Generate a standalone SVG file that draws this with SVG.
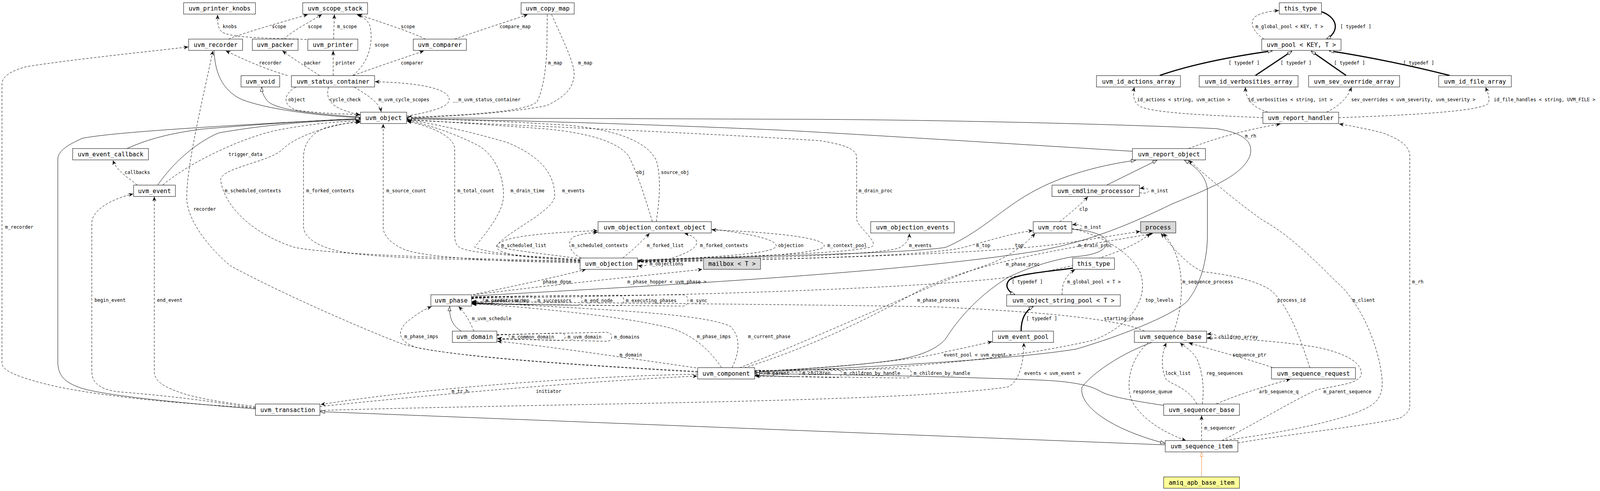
<svg xmlns="http://www.w3.org/2000/svg" width="4119" height="1256" viewBox="0 0 4119 1256">
<style>
.n rect{fill:#fff;stroke:#000;stroke-width:1}
.n.g rect{fill:#d9d9d9}
.n.y rect{fill:#ffff99}
.n text{font-family:"DejaVu Sans Mono",monospace;font-size:15.5px;text-anchor:middle;fill:#000}
#edges path{fill:none;stroke:#000;stroke-width:1}
#edges path.u{stroke-dasharray:6,4;marker-end:url(#v)}
#edges path.i{marker-end:url(#h)}
#edges path.t{stroke-width:3;marker-end:url(#h)}
#edges path.o{stroke:#f5832a;marker-end:url(#ho)}
#edges text{font-family:"DejaVu Sans Mono",monospace;font-size:12px;fill:#000}
</style>
<defs>
<marker id="v" markerUnits="userSpaceOnUse" markerWidth="14" markerHeight="12" refX="12" refY="5" orient="auto"><path d="M0,0 L12,5 L0,10 L4,5 Z" fill="#000"/></marker>
<marker id="h" markerUnits="userSpaceOnUse" markerWidth="14" markerHeight="12" refX="12" refY="5" orient="auto"><path d="M1,1 L12,5 L1,9 Z" fill="#fff" stroke="#000" stroke-width="1"/></marker>
<marker id="ho" markerUnits="userSpaceOnUse" markerWidth="14" markerHeight="12" refX="12" refY="5" orient="auto"><path d="M1,1 L12,5 L1,9 Z" fill="#fff" stroke="#f5832a" stroke-width="1"/></marker>
</defs>
<rect x="0" y="0" width="4119" height="1256" fill="#fff"/>
<g id="edges">
<g><path class="u" d="M785,101 C700,97 600,99 568,82 C557,72 557,55 557,38"/><text x="570" y="72">knobs</text></g>
<g><path class="u" d="M585,100 C640,78 730,55 788,37"/><text x="696" y="72">scope</text></g>
<g><path class="u" d="M726,100 C750,78 800,52 824,37"/><text x="788" y="72">scope</text></g>
<g><path class="u" d="M854,100 L856,37"/><text x="863" y="72">m_scope</text></g>
<g><path class="u" d="M903,193 C945,160 955,110 948,70 C945,55 930,42 913,37"/><text x="959" y="119">scope</text></g>
<g><path class="u" d="M1089,100 C1060,85 1000,65 916,37"/><text x="1026" y="72">scope</text></g>
<g><path class="u" d="M1164,100 C1220,80 1300,55 1351,37"/><text x="1279" y="72">compare_map</text></g>
<g><path class="u" d="M1401,37 L1400,120 C1398,180 1390,230 1375,260 C1350,285 1200,295 1042,300"/><text x="1403" y="165">m_map</text></g>
<g><path class="u" d="M1412,37 C1440,100 1470,160 1470,190 C1468,230 1440,250 1400,270 C1300,290 1150,297 1042,302"/><text x="1480" y="165">m_map</text></g>
<g><path class="u" d="M736,193 C690,180 640,160 578,130"/><text x="663" y="165">recorder</text></g>
<g><path class="u" d="M818,193 C790,175 750,150 723,130"/><text x="778" y="165">packer</text></g>
<g><path class="u" d="M853,193 L853,130"/><text x="859" y="165">printer</text></g>
<g><path class="u" d="M905,193 C960,172 1030,150 1085,130"/><text x="1026" y="165">comparer</text></g>
<g><path class="u" d="M1041,297 C1110,285 1150,272 1150,255 C1150,228 1080,212 960,209"/><text x="1159" y="259">__m_uvm_status_container</text></g>
<g><path class="u" d="M757,223 C725,240 722,270 760,282 C820,290 880,292 922,293"/><text x="738" y="259">object</text></g>
<g><path class="u" d="M841,223 C835,245 840,268 880,282 C900,289 912,292 922,295"/><text x="844" y="259">cycle_check</text></g>
<g><path class="u" d="M907,223 C935,240 970,260 976,286"/><text x="969" y="259">m_uvm_cycle_scopes</text></g>
<g><path class="i" d="M923,300 C800,290 700,282 682,255 C675,245 670,235 670,223"/></g>
<g><path class="i" d="M548,129 C550,180 565,230 620,255 C700,285 850,298 922,301"/></g>
<g><path class="i" d="M325,380 C380,355 440,340 520,330 C700,315 850,306 922,304"/></g>
<g><path class="i" d="M404,473 C440,420 500,365 560,340 C700,315 850,307 922,306"/></g>
<g><path class="i" d="M654,1046 C450,1030 250,1010 200,990 C160,975 148,955 148,925 L148,405 C150,385 175,370 210,354 C300,335 700,315 922,303"/></g>
<g><path class="u" d="M351,473 C330,455 300,440 289,410"/><text x="319" y="445">callbacks</text></g>
<g><path class="u" d="M417,473 C480,420 600,360 700,335 C800,315 880,310 922,309"/><text x="585" y="399">trigger_data</text></g>
<g><path class="u" d="M1485,668 C1200,662 850,652 755,633 C650,600 575,530 565,462 C560,430 690,415 723,382 C760,345 860,316 922,311"/><text x="575" y="492">m_scheduled_contexts</text></g>
<g><path class="u" d="M1485,670 C1300,665 1000,665 880,645 C800,630 777,600 777,580 L777,402 C777,375 790,345 830,328 C860,318 900,313 922,313"/><text x="784" y="492">m_forked_contexts</text></g>
<g><path class="u" d="M1485,672 C1300,670 1100,660 1040,640 C1000,625 981,600 981,583 L981,317"/><text x="989" y="492">m_source_count</text></g>
<g><path class="u" d="M1485,666 C1350,655 1200,650 1175,632 C1165,625 1164,610 1164,600 L1164,380 C1162,350 1110,325 1042,310"/><text x="1171" y="492">m_total_count</text></g>
<g><path class="u" d="M1485,664 C1350,655 1250,650 1215,632 C1250,590 1289,540 1289,500 C1289,440 1260,390 1220,370 C1160,340 1100,320 1042,308"/><text x="1307" y="492">m_drain_time</text></g>
<g><path class="u" d="M1487,662 C1400,650 1300,640 1270,630 C1300,590 1420,540 1420,500 C1420,430 1360,390 1300,365 C1200,335 1100,315 1042,306"/><text x="1439" y="492">m_events</text></g>
<g><path class="u" d="M1670,567 C1650,500 1630,440 1610,400 C1580,360 1500,340 1400,330 C1200,315 1100,310 1042,305"/><text x="1629" y="445">obj</text></g>
<g><path class="u" d="M1680,567 C1690,500 1692,450 1680,410 C1660,370 1600,335 1460,321 C1300,310 1150,305 1042,304"/><text x="1692" y="445">source_obj</text></g>
<g><path class="u" d="M1632,665 C1900,655 2150,650 2230,632 C2255,622 2193,580 2193,560 L2193,400 C2190,380 2160,370 2100,360 C1800,340 1300,320 1042,307"/><text x="2198" y="492">m_drain_proc</text></g>
<g><path class="u" d="M1485,667 C1350,660 1275,652 1272,632 C1270,605 1400,595 1530,590"/><text x="1283" y="632">m_scheduled_list</text></g>
<g><path class="u" d="M1488,660 C1455,645 1450,615 1470,605 C1490,598 1510,596 1530,594"/><text x="1463" y="632">m_scheduled_contexts</text></g>
<g><path class="u" d="M1594,660 C1620,640 1640,620 1663,597"/><text x="1656" y="632">m_forked_list</text></g>
<g><path class="u" d="M1720,660 C1770,645 1790,628 1782,614 C1775,604 1762,599 1752,597"/><text x="1792" y="632">m_forked_contexts</text></g>
<g><path class="u" d="M1821,586 C1900,595 1985,610 1987,628 C1988,645 1900,655 1633,667"/><text x="1992" y="632">objection</text></g>
<g><path class="u" d="M1632,668 C1900,660 2100,650 2110,630 C2115,610 2000,595 1822,588"/><text x="2118" y="632">m_context_pool</text></g>
<g><path class="u" d="M1632,669 C2000,660 2250,650 2300,635 C2320,625 2328,612 2328,597"/><text x="2327" y="632">m_events</text></g>
<g><path class="u" d="M1632,670 C2100,662 2400,652 2470,632 C2550,610 2600,595 2644,590"/><text x="2499" y="632">m_top</text></g>
<g><path class="u" d="M1893,941 C2100,860 2400,720 2520,680 C2580,660 2625,625 2650,597"/><text x="2598" y="632">top</text></g>
<g><path class="u" d="M1632,671 C2200,660 2600,645 2760,617 C2850,603 2890,596 2919,592"/><text x="2760" y="632">m_drain_proc</text></g>
<g><path class="u" d="M1207,763 C1700,758 2300,740 2560,712 C2750,690 2900,640 2944,597"/><text x="2575" y="680">m_phase_proc</text></g>
<g><path class="u" d="M1905,941 C2100,880 2250,800 2350,745 C2500,665 2800,625 2952,597"/><text x="2348" y="772">m_phase_process</text></g>
<g><path class="u" d="M3005,847 C3030,780 3030,700 3010,650 C3000,625 2990,610 2978,597"/><text x="3027" y="725">m_sequence_process</text></g>
<g><path class="u" d="M3353,940 C3330,870 3300,780 3250,740 C3200,710 3120,700 3080,695 C3040,680 3000,630 2972,597"/><text x="3270" y="772">process_id</text></g>
<g><path class="u" d="M1212,754 C1400,730 1650,705 1798,689"/><text x="1606" y="725">m_phase_hopper &lt; uvm_phase &gt;</text></g>
<g><path class="u" d="M1210,754 C1300,735 1420,710 1500,689"/><text x="1390" y="725">phase_done</text></g>
<g><path class="u" d="M2713,567 C2740,545 2770,520 2785,503"/><text x="2763" y="539">clp</text></g>
<g><path class="u" d="M2917,493 C2933,496 2941,492 2941,488 C2941,483 2933,480 2918,482"/><text x="2947" y="492">m_inst</text></g>
<g><path class="u" d="M2744,586 C2760,589 2770,585 2770,581 C2770,576 2760,573 2745,575"/><text x="2776" y="585">m_inst</text></g>
<g><path class="u" d="M3043,380 C3120,350 3200,330 3278,317"/><text x="3187" y="352">m_rh</text></g>
<g><path class="u" d="M3169,1133 C3300,1110 3500,1090 3585,1069 C3600,1060 3609,1050 3609,1040 L3609,395 C3605,370 3580,355 3540,340 C3500,330 3460,322 3428,317"/><text x="3615" y="725">m_rh</text></g>
<g><path class="u" d="M3128,1127 C3250,1112 3430,1080 3500,1043 C3535,1025 3540,1000 3538,970 C3530,880 3480,770 3420,720 C3370,670 3300,600 3235,565 C3170,520 3100,460 3043,410"/><text x="3462" y="772">m_client</text></g>
<g><path class="u" d="M3233,301 C3100,295 2960,290 2920,273 C2900,262 2900,240 2904,223"/><text x="2911" y="259">id_actions &lt; string, uvm_action &gt;</text></g>
<g><path class="u" d="M3246,287 C3210,275 3190,260 3188,223"/><text x="3195" y="259">id_verbosities &lt; string, int &gt;</text></g>
<g><path class="u" d="M3396,287 C3430,270 3450,250 3460,223"/><text x="3459" y="259">sev_overrides &lt; uvm_severity, uvm_severity &gt;</text></g>
<g><path class="u" d="M3427,301 C3600,295 3790,285 3810,265 C3815,250 3808,235 3803,223"/><text x="3824" y="259">id_file_handles &lt; string, UVM_FILE &gt;</text></g>
<g><path class="u" d="M3236,100 C3205,80 3198,55 3214,42 C3230,32 3255,28 3274,27"/><text x="3214" y="72">m_global_pool &lt; KEY, T &gt;</text></g>
<g><path class="t" d="M3383,30 C3425,45 3430,80 3396,100"/><text x="3431" y="72">[ typedef ]</text></g>
<g><path class="t" d="M2969,193 C3050,165 3150,145 3257,130"/><text x="3145" y="165">[ typedef ]</text></g>
<g><path class="t" d="M3214,193 L3307,131"/><text x="3278" y="165">[ typedef ]</text></g>
<g><path class="t" d="M3446,193 L3357,131"/><text x="3415" y="165">[ typedef ]</text></g>
<g><path class="t" d="M3711,193 C3600,165 3500,145 3403,130"/><text x="3592" y="165">[ typedef ]</text></g>
<g><path class="t" d="M2746,686 C2680,695 2610,700 2585,715 C2570,730 2580,745 2598,754"/><text x="2590" y="725">[ typedef ]</text></g>
<g><path class="t" d="M2614,847 C2614,815 2625,795 2645,784"/><text x="2627" y="819">[ typedef ]</text></g>
<g><path class="u" d="M2719,754 C2718,730 2725,705 2752,690"/><text x="2732" y="725">m_global_pool &lt; T &gt;</text></g>
<g><path class="i" d="M1181,847 C1160,835 1150,815 1151,784"/></g>
<g><path class="u" d="M1213,847 C1205,825 1190,800 1174,784"/><text x="1208" y="819">m_uvm_schedule</text></g>
<g><path class="u" d="M1786,950 C1500,935 1200,915 1070,890 C1020,875 1015,850 1040,825 C1070,800 1090,790 1105,784"/><text x="1035" y="865">m_phase_imps</text></g>
<g><path class="u" d="M1847,940 C1820,900 1780,860 1720,840 C1600,810 1400,790 1208,776"/><text x="1784" y="865">m_phase_imps</text></g>
<g><path class="u" d="M1874,940 C1895,900 1895,860 1870,835 C1800,800 1500,790 1208,773"/><text x="1915" y="865">m_current_phase</text></g>
<g><path class="u" d="M2930,847 C2850,810 2600,795 2400,785 C2000,778 1500,775 1208,771"/><text x="2826" y="819">starting_phase</text></g>
<g><path class="u" d="M1207,765 L1222,762 Q1237,762 1237,768.5 Q1237,775 1222,775 L1208,772"/><text x="1243" y="772.5">m_predecessors</text></g>
<g><path class="u" d="M1207,764 L1224,760 Q1239,760 1239,768.5 Q1239,777 1224,777 L1208,773"/><text x="1243" y="772.5">m_parent</text></g>
<g><path class="u" d="M1207,763 L1298,758 Q1313,758 1313,768.5 Q1313,779 1298,779 L1208,774"/><text x="1319" y="772.5">m_imp</text></g>
<g><path class="u" d="M1207,762 L1355,757 Q1370,757 1370,768.5 Q1370,780 1355,780 L1208,775"/><text x="1376" y="772.5">m_successors</text></g>
<g><path class="u" d="M1207,761 L1475,756 Q1490,756 1490,768.5 Q1490,781 1475,781 L1208,776"/><text x="1496" y="772.5">m_end_node</text></g>
<g><path class="u" d="M1207,760 L1582,755 Q1597,755 1597,768.5 Q1597,782 1582,782 L1208,777"/><text x="1602" y="772.5">m_executing_phases</text></g>
<g><path class="u" d="M1207,759 L1746,754 Q1761,754 1761,768.5 Q1761,783 1746,783 L1208,778"/><text x="1767" y="772.5">m_sync</text></g>
<g><path class="u" d="M1272,858 L1290,855 Q1304,855 1304,861.5 Q1304,868 1290,868 L1273,865"/><text x="1310" y="865.5">m_common_domain</text></g>
<g><path class="u" d="M1272,857 L1432,852 Q1447,852 1447,861.5 Q1447,871 1432,871 L1273,866"/><text x="1453" y="865.5">m_uvm_domain</text></g>
<g><path class="u" d="M1272,856 L1551,850 Q1566,850 1566,861.5 Q1566,873 1551,873 L1273,867"/><text x="1572" y="865.5">m_domains</text></g>
<g><path class="u" d="M1782,941 C1600,915 1400,885 1273,873"/><text x="1586" y="912">m_domain</text></g>
<g><path class="u" d="M1932,951 L1945,948 Q1957,948 1957,955 Q1957,962 1945,962 L1933,959"/><text x="1963" y="959">m_parent</text></g>
<g><path class="u" d="M1932,950 L2034,946 Q2048,946 2048,955 Q2048,964 2034,964 L1933,960"/><text x="2054" y="959">m_children</text></g>
<g><path class="u" d="M1932,949 L2139,944 Q2154,944 2154,955 Q2154,966 2139,966 L1933,961"/><text x="2160" y="959">m_children_by_handle</text></g>
<g><path class="u" d="M1932,948 L2318,943 Q2333,943 2333,955 Q2333,967 2318,967 L1933,962"/><text x="2339" y="959">m_children_by_handle</text></g>
<g><path class="u" d="M1632,671 C1648,669 1657,672 1657,675 C1657,679 1648,682 1633,679"/><text x="1663" y="679">m_objections</text></g>
<g><path class="u" d="M819,1040 C1100,1010 1500,975 1785,962"/><text x="1372" y="1005">initiator</text></g>
<g><path class="u" d="M1786,957 C1400,965 1000,1005 821,1035"/><text x="1156" y="1005">m_tr_h</text></g>
<g><path class="u" d="M819,1050 C1500,1030 2300,1030 2580,990 C2612,975 2621,920 2621,877"/><text x="2622" y="959">events &lt; uvm_event &gt;</text></g>
<g><path class="u" d="M1932,950 C2150,940 2350,920 2420,900 C2480,888 2510,880 2540,874"/><text x="2416" y="912">event_pool &lt; uvm_event &gt;</text></g>
<g><path class="u" d="M2744,585 C2820,600 2900,650 2920,700 C2940,760 2900,830 2800,870 C2500,940 2100,950 1933,955"/><text x="2932" y="772">top_levels</text></g>
<g><path class="u" d="M654,1044 C500,1020 400,1010 300,1002 C250,995 235,975 235,950 L235,570 C235,540 280,510 341,496"/><text x="242" y="772">begin_event</text></g>
<g><path class="u" d="M654,1040 C580,1030 500,1020 450,1000 C410,985 395,970 395,950 L395,503"/><text x="402" y="772">end_event</text></g>
<g><path class="u" d="M1786,952 C1500,935 1150,915 1030,880 C900,830 700,740 590,680 C530,630 478,560 478,505 C478,420 520,250 545,130"/><text x="495" y="539">recorder</text></g>
<g><path class="u" d="M654,1043 C500,1035 300,1020 150,990 C60,970 5,950 5,930 L5,215 C5,195 30,180 70,170 C200,150 400,130 482,120"/><text x="13" y="585">m_recorder</text></g>
<g><path class="u" d="M3089,866 C3105,869 3114,865 3114,861 C3114,856 3105,853 3090,855"/><text x="3119" y="865.5">children_array</text></g>
<g><path class="u" d="M3257,940 C3200,920 3140,905 3043,877"/><text x="3155" y="912">sequence_ptr</text></g>
<g><path class="u" d="M3078,1033 C3082,1000 3082,960 3064,918 C3050,895 3030,885 3021,877"/><text x="3088" y="959">reg_sequences</text></g>
<g><path class="u" d="M3064,1033 C3040,990 3000,985 2985,970 C2970,940 2975,900 2986,877"/><text x="2983" y="959">lock_list</text></g>
<g><path class="u" d="M3128,1127 C3220,1080 3300,1030 3371,997 C3430,985 3485,980 3485,955 C3485,920 3420,895 3350,885 C3250,870 3150,866 3090,864"/><text x="3388" y="1006">m_parent_sequence</text></g>
<g><path class="u" d="M3114,1033 C3180,1005 3250,985 3303,970"/><text x="3223" y="1006">arb_sequence_q</text></g>
<g><path class="u" d="M3076,1127 L3076,1063"/><text x="3083" y="1099">m_sequencer</text></g>
<g><path class="u" d="M2940,876 C2890,920 2880,990 2900,1030 C2930,1080 2990,1110 3036,1127"/><text x="2900" y="1006">response_queue</text></g>
<g><path class="i" d="M2899,387 C2500,362 2100,338 2000,333 C1600,315 1200,305 1042,304"/></g>
<g><path class="i" d="M1212,757 C1600,735 2300,700 2657,642 C2800,615 2900,570 3000,522 C3100,480 3180,450 3200,398 C3210,360 3180,340 3114,329 C2800,315 2300,305 2000,305 C1500,303 1200,302 1042,302"/></g>
<g><path class="i" d="M1632,667 C1900,655 2300,650 2420,633 C2500,600 2560,540 2624,502 C2700,455 2800,425 2907,410"/></g>
<g><path class="i" d="M2834,473 L2962,410"/></g>
<g><path class="i" d="M1932,953 C2300,935 2600,918 2755,893 C2900,850 3010,800 3040,770 C3080,720 3091,650 3091,600 L3091,490 C3091,460 3070,430 3032,410"/></g>
<g><path class="i" d="M2744,586 C2800,590 2840,605 2833,625 C2826,648 2780,655 2745,657 C2680,668 2620,690 2578,711 C2500,760 2450,820 2420,868 C2390,900 2342,912 2300,920 C2200,935 2050,945 1933,951"/></g>
<g><path class="i" d="M2979,1037 C2900,1025 2840,1015 2815,1000 C2790,985 2740,975 2657,972 C2400,962 2100,957 1933,956"/></g>
<g><path class="i" d="M2949,876 C2880,900 2800,950 2770,990 C2760,1040 2850,1100 2982,1134"/></g>
<g><path class="i" d="M2983,1138 L820,1053"/></g>
<g><path class="o" d="M3076,1220 L3076,1157"/></g>
</g>
<g id="nodes">
<g id="n_uvm_printer_knobs" class="n"><rect x="470" y="7" width="184" height="29"/><text x="562" y="27">uvm_printer_knobs</text></g>
<g id="n_uvm_scope_stack" class="n"><rect x="775" y="7" width="166" height="29"/><text x="858" y="27">uvm_scope_stack</text></g>
<g id="n_uvm_copy_map" class="n"><rect x="1334" y="7" width="136" height="29"/><text x="1402" y="27">uvm_copy_map</text></g>
<g id="n_this_type_pool" class="n"><rect x="3275" y="7" width="108" height="29"/><text x="3329" y="27">this_type</text></g>
<g id="n_uvm_recorder" class="n"><rect x="483" y="100" width="138" height="29"/><text x="552" y="120">uvm_recorder</text></g>
<g id="n_uvm_packer" class="n"><rect x="646" y="100" width="117" height="29"/><text x="704.5" y="120">uvm_packer</text></g>
<g id="n_uvm_printer" class="n"><rect x="788" y="100" width="128" height="29"/><text x="852" y="120">uvm_printer</text></g>
<g id="n_uvm_comparer" class="n"><rect x="1058" y="100" width="136" height="29"/><text x="1126" y="120">uvm_comparer</text></g>
<g id="n_uvm_pool" class="n"><rect x="3230" y="100" width="203" height="29"/><text x="3331.5" y="120">uvm_pool &lt; KEY, T &gt;</text></g>
<g id="n_uvm_void" class="n"><rect x="617" y="193.5" width="99" height="29"/><text x="666.5" y="213.5">uvm_void</text></g>
<g id="n_uvm_status_container" class="n"><rect x="746" y="193.5" width="213" height="29"/><text x="852.5" y="213.5">uvm_status_container</text></g>
<g id="n_uvm_id_actions_array" class="n"><rect x="2807" y="193.5" width="215" height="29"/><text x="2914.5" y="213.5">uvm_id_actions_array</text></g>
<g id="n_uvm_id_verbosities_array" class="n"><rect x="3070" y="193.5" width="253" height="29"/><text x="3196.5" y="213.5">uvm_id_verbosities_array</text></g>
<g id="n_uvm_sev_override_array" class="n"><rect x="3350" y="193.5" width="233" height="29"/><text x="3466.5" y="213.5">uvm_sev_override_array</text></g>
<g id="n_uvm_id_file_array" class="n"><rect x="3683" y="193.5" width="186" height="29"/><text x="3776" y="213.5">uvm_id_file_array</text></g>
<g id="n_uvm_object" class="n"><rect x="923" y="287" width="118" height="29"/><text x="982" y="307">uvm_object</text></g>
<g id="n_uvm_report_handler" class="n"><rect x="3233" y="287" width="194" height="29"/><text x="3330" y="307">uvm_report_handler</text></g>
<g id="n_uvm_event_callback" class="n"><rect x="186" y="380" width="194" height="29"/><text x="283" y="400">uvm_event_callback</text></g>
<g id="n_uvm_report_object" class="n"><rect x="2899" y="380" width="187" height="29"/><text x="2992.5" y="400">uvm_report_object</text></g>
<g id="n_uvm_event" class="n"><rect x="342" y="473.5" width="107" height="29"/><text x="395.5" y="493.5">uvm_event</text></g>
<g id="n_uvm_cmdline_processor" class="n"><rect x="2693" y="473.5" width="224" height="29"/><text x="2805" y="493.5">uvm_cmdline_processor</text></g>
<g id="n_uvm_objection_context_object" class="n"><rect x="1531" y="567" width="290" height="29"/><text x="1676" y="587">uvm_objection_context_object</text></g>
<g id="n_uvm_objection_events" class="n"><rect x="2229" y="567" width="214" height="29"/><text x="2336" y="587">uvm_objection_events</text></g>
<g id="n_uvm_root" class="n"><rect x="2645" y="567" width="99" height="29"/><text x="2694.5" y="587">uvm_root</text></g>
<g id="n_process" class="n g"><rect x="2920" y="567" width="90" height="29"/><text x="2965" y="587">process</text></g>
<g id="n_uvm_objection" class="n"><rect x="1485" y="660" width="147" height="29"/><text x="1558.5" y="680">uvm_objection</text></g>
<g id="n_mailbox" class="n g"><rect x="1801" y="660" width="146" height="29"/><text x="1874" y="680">mailbox &lt; T &gt;</text></g>
<g id="n_this_type_string_pool" class="n"><rect x="2746" y="660" width="107" height="29"/><text x="2799.5" y="680">this_type</text></g>
<g id="n_uvm_phase" class="n"><rect x="1103" y="754" width="104" height="29"/><text x="1155" y="774">uvm_phase</text></g>
<g id="n_uvm_object_string_pool" class="n"><rect x="2577" y="754" width="291" height="29"/><text x="2722.5" y="774">uvm_object_string_pool &lt; T &gt;</text></g>
<g id="n_uvm_domain" class="n"><rect x="1158" y="847" width="114" height="29"/><text x="1215" y="867">uvm_domain</text></g>
<g id="n_uvm_event_pool" class="n"><rect x="2541" y="847" width="156" height="29"/><text x="2619" y="867">uvm_event_pool</text></g>
<g id="n_uvm_sequence_base" class="n"><rect x="2904" y="847" width="185" height="29"/><text x="2996.5" y="867">uvm_sequence_base</text></g>
<g id="n_uvm_component" class="n"><rect x="1786" y="940.5" width="146" height="29"/><text x="1859" y="960.5">uvm_component</text></g>
<g id="n_uvm_sequence_request" class="n"><rect x="3255" y="940.5" width="215" height="29"/><text x="3362.5" y="960.5">uvm_sequence_request</text></g>
<g id="n_uvm_transaction" class="n"><rect x="654" y="1033.5" width="165" height="29"/><text x="736.5" y="1053.5">uvm_transaction</text></g>
<g id="n_uvm_sequencer_base" class="n"><rect x="2979" y="1033.5" width="194" height="29"/><text x="3076" y="1053.5">uvm_sequencer_base</text></g>
<g id="n_uvm_sequence_item" class="n"><rect x="2983" y="1127" width="186" height="29"/><text x="3076" y="1147">uvm_sequence_item</text></g>
<g id="n_amiq_apb_base_item" class="n y"><rect x="2979" y="1220" width="194" height="29"/><text x="3076" y="1240">amiq_apb_base_item</text></g>
</g>
</svg>
